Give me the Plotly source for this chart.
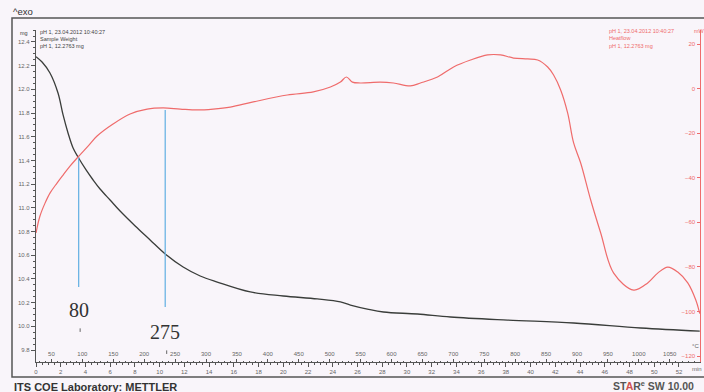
import plotly.graph_objects as go

# ---- TGA (sample weight) curve: time in min, mass in mg ----
tga_time = [0.0, 0.49, 1.13, 1.78, 2.19, 2.59, 3.00, 3.40, 4.05, 4.62, 5.18, 5.99, 6.80,
            8.02, 9.23, 10.45, 11.90, 13.28, 14.66, 17.33, 20.00, 22.75, 24.62, 25.43,
            26.80, 28.10, 30.85, 33.52, 38.14, 43.48, 48.91, 53.68]
tga_mass = [12.276, 12.231, 12.138, 11.969, 11.784, 11.632, 11.505, 11.429, 11.320, 11.235,
            11.159, 11.066, 10.973, 10.847, 10.729, 10.611, 10.501, 10.425, 10.374, 10.290,
            10.256, 10.231, 10.206, 10.180, 10.146, 10.121, 10.104, 10.079, 10.053, 10.028,
            9.986, 9.960]

# ---- DSC (heat flow) curve: time in min, heat flow in mW ----
dsc_time = [0.0, 0.32, 0.73, 1.13, 1.70, 2.19, 2.75, 3.40, 4.21, 4.94, 6.23, 7.61, 8.99,
            10.28, 11.66, 13.04, 14.33, 15.71, 17.57, 20.32, 22.43, 23.81, 24.62, 25.10,
            25.59, 26.23, 27.85, 28.91, 30.28, 31.09, 32.47, 33.77, 35.14, 36.52, 37.57,
            38.62, 39.76, 40.57, 41.38, 41.86, 42.43, 43.00, 43.48, 44.05, 44.86, 45.67,
            46.72, 48.34, 49.47, 50.28, 51.09, 51.90, 52.71, 53.36, 53.68]
dsc_heat = [-64.8, -57.2, -51.4, -46.9, -42.4, -38.8, -34.8, -30.7, -25.8, -21.3, -15.9,
            -11.4, -9.2, -8.7, -9.2, -9.6, -9.2, -8.3, -6.0, -2.9, -1.5, 0.7, 2.9, 5.2, 2.9,
            2.5, 2.9, 2.5, 1.2, 2.5, 5.2, 9.7, 12.8, 15.1, 15.1, 13.7, 13.3, 12.8, 9.7, 6.1,
            -0.6, -11.0, -24.4, -33.4, -50.0, -64.8, -82.8, -90.4, -87.2, -82.8, -80.1,
            -82.3, -87.2, -94.9, -101.0]

# ---- hand-drawn markers: time (min), mass span (mg), label ----
marker_time = [3.45, 10.45]
marker_top = [11.429, 11.826]
marker_bottom = [10.332, 10.163]
marker_label = ["80", "275"]
marker_label_mass = [10.138, 9.952]

# ---- axis ticks ----
time_ticks = list(range(0, 53, 2))
temp_ticks = list(range(50, 1051, 50))
mass_ticks = [9.8, 10.0, 10.2, 10.4, 10.6, 10.8, 11.0, 11.2, 11.4, 11.6, 11.8, 12.0, 12.2, 12.4]
heat_ticks = [-120, -100, -80, -60, -40, -20, 0, 20]

T_START, RATE = 25.0, 20.0      # furnace program: start temperature and heating rate
T_END = 53.7                     # end of time axis, min

W, H = 704, 392
ML, MR, MT, MB = 36, 4, 30, 30
PW, PH = W - ML - MR, H - MT - MB

def px(x):
    return (x - ML) / PW

def py(y):
    return (H - MB - y) / PH

BG = "#f9f5fa"
RED = "#ef6b6b"
GREY = "#555555"
TICKFONT = dict(family="Liberation Sans, Arial", size=6, color="#666666")

fig = go.Figure()

fig.add_trace(go.Scatter(x=tga_time, y=tga_mass, mode="lines", line=dict(color="#3a3d3a", width=1.3),
                         line_shape="spline", xaxis="x", yaxis="y", showlegend=False))
fig.add_trace(go.Scatter(x=dsc_time, y=dsc_heat, mode="lines", line=dict(color=RED, width=1.2),
                         line_shape="spline", xaxis="x", yaxis="y2", showlegend=False))

# blue marker lines
for t, top, bot in zip(marker_time, marker_top, marker_bottom):
    fig.add_trace(go.Scatter(x=[t, t], y=[top, bot], mode="lines",
                             line=dict(color="#6cb4e4", width=1.3),
                             xaxis="x", yaxis="y", showlegend=False))

annotations = []
for t, lab, m in zip(marker_time, marker_label, marker_label_mass):
    annotations.append(dict(x=t, y=m, xref="x", yref="y", text=lab, showarrow=False,
                            font=dict(family="Liberation Serif, Times New Roman", size=20, color="#333333")))

# small pencil ticks under the marker labels
shapes = []
for t, m in zip(marker_time, marker_label_mass):
    shapes.append(dict(type="line", xref="x", yref="y", x0=t + 0.12, x1=t + 0.12,
                       y0=m - 0.155, y1=m - 0.185, line=dict(color="#666666", width=1)))

# outer frame
shapes.append(dict(type="rect", xref="paper", yref="paper", x0=px(12), x1=px(720),
                   y0=py(377), y1=py(18), line=dict(color=GREY, width=1.5), layer="below"))

def note(x, y, text, size=5.5, color="#444444", anchor="left", bold=False, family="Liberation Sans, Arial"):
    if bold:
        text = "<b>" + text + "</b>"
    annotations.append(dict(x=px(x), y=py(y), xref="paper", yref="paper", text=text,
                            showarrow=False, xanchor=anchor, yanchor="middle",
                            font=dict(family=family, size=size, color=color)))

note(11, 12, "^exo", size=9.5, color="#333333")
note(24, 33, "mg", size=5.5, anchor="center")
note(38, 32, "pH 1, 23.04.2012 10:40:27")
note(38, 39, "Sample Weight")
note(38, 46, "pH 1, 12.2763 mg")
note(607, 31, "pH 1, 23.04.2012 10:40:27", color=RED)
note(692, 31, "mW", color=RED)
note(607, 38, "Heatflow", color=RED)
note(607, 46, "pH 1, 12.2763 mg", color=RED)
note(697, 369, "min", size=6, color="#666666", anchor="center")
note(695, 346, "°C", size=6, color="#666666", anchor="center")
note(12, 387, "ITS COE Laboratory: METTLER", size=11, color="#333333", bold=True)
note(611, 385, "ST<span style='color:#d05050'>A</span>R<sup>e</sup> SW 10.00", size=10.5,
     color="#555555", bold=True)

fig.update_layout(
    width=W, height=H,
    margin=dict(l=ML, r=MR, t=MT, b=MB),
    paper_bgcolor=BG, plot_bgcolor=BG,
    showlegend=False,
    xaxis=dict(range=[0, T_END], tickvals=time_ticks, ticks="outside", ticklen=4,
               tickcolor=GREY, showgrid=False, zeroline=False, showline=True,
               linecolor=GREY, linewidth=1.2, tickfont=TICKFONT,
               minor=dict(dtick=0.5, ticks="outside", ticklen=2, tickcolor=GREY)),
    xaxis2=dict(range=[T_START, T_START + RATE * T_END], overlaying="x", side="bottom",
                anchor="y", tickvals=temp_ticks, ticks="inside", ticklen=3, tickcolor=GREY,
                ticklabelposition="inside", showgrid=False, zeroline=False, showline=False,
                tickfont=TICKFONT,
                minor=dict(dtick=10, ticks="inside", ticklen=1.5, tickcolor=GREY)),
    yaxis=dict(range=[9.699, 12.501], tickvals=mass_ticks, tickformat=".1f", ticks="outside",
               ticklen=4, tickcolor=GREY, showgrid=False, zeroline=False, showline=True,
               linecolor=GREY, linewidth=1.2, tickfont=TICKFONT,
               minor=dict(dtick=0.05, ticks="outside", ticklen=2, tickcolor=GREY)),
    yaxis2=dict(range=[-122.69, 26.28], overlaying="y", side="right", anchor="x",
                tickvals=heat_ticks, ticks="inside", ticklen=3, tickcolor=RED,
                ticklabelposition="inside", showgrid=False, zeroline=False, showline=True,
                linecolor=RED, linewidth=1.2,
                tickfont=dict(family="Liberation Sans, Arial", size=6, color=RED)),
    shapes=shapes,
    annotations=annotations,
)

# an empty trace on the temperature axis so that axis is drawn
fig.add_trace(go.Scatter(x=[None], y=[None], xaxis="x2", yaxis="y", showlegend=False))

fig.write_html("out.html")
